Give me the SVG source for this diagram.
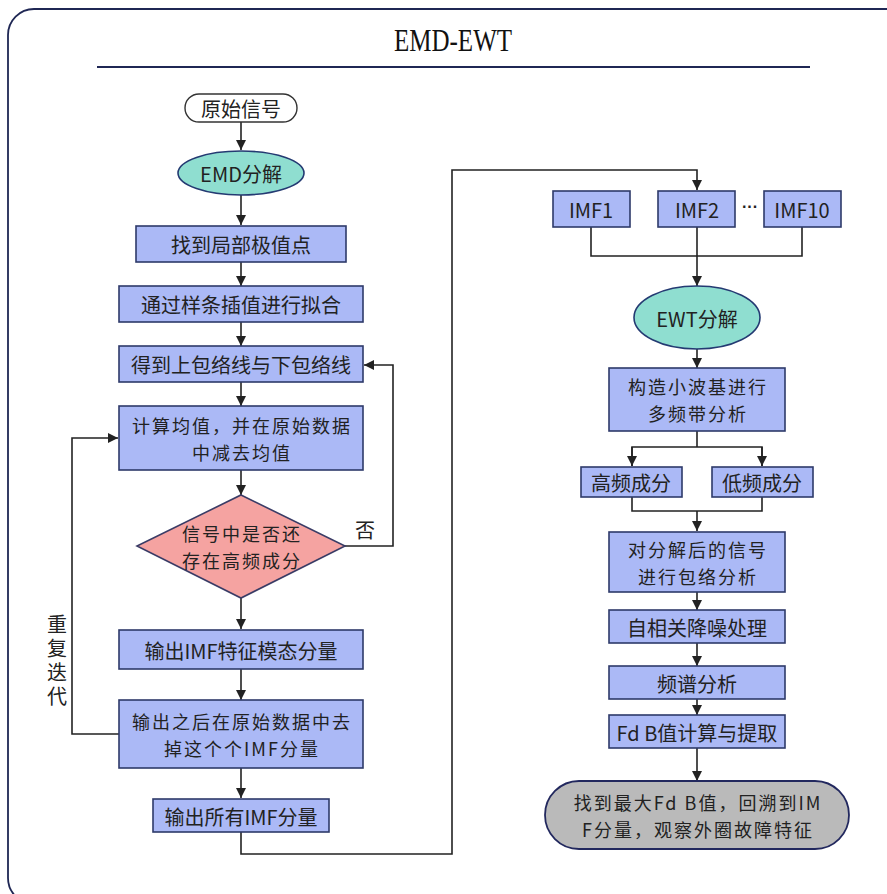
<svg xmlns="http://www.w3.org/2000/svg" width="887" height="894" viewBox="0 0 887 894">
<style>
.t{font-family:"Noto Sans CJK SC","Microsoft YaHei",sans-serif;font-size:20px;fill:#222;text-anchor:middle;dominant-baseline:central}
.t2{font-family:"Noto Sans CJK SC","Microsoft YaHei",sans-serif;font-size:18px;letter-spacing:2px;fill:#222;text-anchor:middle;dominant-baseline:central}
.box{fill:#abb9f6;stroke:#2e3a6a;stroke-width:1.6}
.ell{fill:#8fded0;stroke:#243a72;stroke-width:1.6}
.dia{fill:#f5a3a1;stroke:#3a3c66;stroke-width:1.6}
.pill{fill:#fff;stroke:#333;stroke-width:1.4}
.end{fill:#bababa;stroke:#22285e;stroke-width:1.8}
.ln{fill:none;stroke:#222;stroke-width:1.6}
</style>
<defs>
<marker id="ah" viewBox="0 0 10 10" refX="10" refY="5" markerWidth="10" markerHeight="10" markerUnits="userSpaceOnUse" orient="auto">
<path d="M0,0 L10,5 L0,10 Z" fill="#222"/>
</marker>
</defs>
<rect x="8" y="9" width="910" height="895" rx="26" fill="#fff" stroke="#1f2754" stroke-width="1.8"/>
<text x="453" y="40" font-family="Liberation Serif, serif" font-size="31" fill="#111" text-anchor="middle" dominant-baseline="central" textLength="118" lengthAdjust="spacingAndGlyphs">EMD-EWT</text>
<line x1="97" y1="67" x2="810" y2="67" stroke="#1f2754" stroke-width="1.8"/>

<g id="connectors">
<path class="ln" d="M241,122 V150" marker-end="url(#ah)"/>
<path class="ln" d="M241,195 V225" marker-end="url(#ah)"/>
<path class="ln" d="M241,262 V286" marker-end="url(#ah)"/>
<path class="ln" d="M241,322 V346" marker-end="url(#ah)"/>
<path class="ln" d="M241,382 V406" marker-end="url(#ah)"/>
<path class="ln" d="M241,470 V495" marker-end="url(#ah)"/>
<path class="ln" d="M241,598 V629" marker-end="url(#ah)"/>
<path class="ln" d="M241,669 V700" marker-end="url(#ah)"/>
<path class="ln" d="M241,768 V798" marker-end="url(#ah)"/>
<path class="ln" d="M345,546 H393 V365 H364" marker-end="url(#ah)"/>
<path class="ln" d="M119,734 H72 V438 H118" marker-end="url(#ah)"/>
<path class="ln" d="M241,832 V854 H452 V170 H697 V190" marker-end="url(#ah)"/>
<path class="ln" d="M591,227 V256 H802 V227"/>
<path class="ln" d="M697,227 V286" marker-end="url(#ah)"/>
<path class="ln" d="M697,349 V368" marker-end="url(#ah)"/>
<path class="ln" d="M697,431 V447"/>
<path class="ln" d="M632,466 V447 H762 V466"/>
<path class="ln" d="M632,447 V466" marker-end="url(#ah)"/>
<path class="ln" d="M762,447 V466" marker-end="url(#ah)"/>
<path class="ln" d="M632,497 V511 H762 V497"/>
<path class="ln" d="M697,511 V531" marker-end="url(#ah)"/>
<path class="ln" d="M697,592 V610" marker-end="url(#ah)"/>
<path class="ln" d="M697,643 V666" marker-end="url(#ah)"/>
<path class="ln" d="M697,699 V715" marker-end="url(#ah)"/>
<path class="ln" d="M697,748 V781" marker-end="url(#ah)"/>
<text class="t" x="365" y="529">否</text>
<text x="57" y="614" font-family="Noto Sans CJK SC, sans-serif" font-size="20" fill="#222" style="writing-mode:vertical-rl;letter-spacing:4px">重复迭代</text>
</g>

<g id="n_start"><rect class="pill" x="185" y="94" width="112" height="28" rx="14"/><text class="t" x="241" y="108">原始信号</text></g>
<g id="n_emd"><ellipse class="ell" cx="241" cy="173" rx="63" ry="22"/><text class="t" x="241" y="173">EMD分解</text></g>
<g id="n_extrema"><rect class="box" x="136" y="226" width="210" height="36"/><text class="t" x="241" y="244">找到局部极值点</text></g>
<g id="n_spline"><rect class="box" x="119" y="286" width="244" height="36"/><text class="t" x="241" y="304">通过样条插值进行拟合</text></g>
<g id="n_envelope"><rect class="box" x="119" y="346" width="244" height="36"/><text class="t" x="241" y="364">得到上包络线与下包络线</text></g>
<g id="n_mean"><rect class="box" x="119" y="406" width="244" height="64"/><text class="t2"><tspan x="242" y="425">计算均值，并在原始数据</tspan><tspan x="242" y="452">中减去均值</tspan></text></g>
<g id="n_decision"><polygon class="dia" points="241,495 345,546 241,598 137,546"/><text class="t2"><tspan x="242" y="533">信号中是否还</tspan><tspan x="242" y="560">存在高频成分</tspan></text></g>
<g id="n_imf"><rect class="box" x="119" y="630" width="244" height="39"/><text class="t" x="241" y="650">输出IMF特征模态分量</text></g>
<g id="n_remove"><rect class="box" x="119" y="700" width="244" height="68"/><text class="t2"><tspan x="242" y="721">输出之后在原始数据中去</tspan><tspan x="242" y="748">掉这个个IMF分量</tspan></text></g>
<g id="n_all"><rect class="box" x="153" y="799" width="176" height="33"/><text class="t" x="241" y="816">输出所有IMF分量</text></g>

<g id="n_imf1"><rect class="box" x="553" y="191" width="77" height="36"/><text class="t" x="591" y="209">IMF1</text></g>
<g id="n_imf2"><rect class="box" x="658" y="191" width="77" height="36"/><text class="t" x="697" y="209">IMF2</text></g>
<text x="750" y="212" font-family="Liberation Sans, sans-serif" font-size="16" font-weight="bold" fill="#222" text-anchor="middle">···</text>
<g id="n_imf10"><rect class="box" x="764" y="191" width="77" height="36"/><text class="t" x="802" y="209">IMF10</text></g>
<g id="n_ewt"><ellipse class="ell" cx="697" cy="317.5" rx="63" ry="31.5"/><text class="t" x="697" y="318">EWT分解</text></g>
<g id="n_wavelet"><rect class="box" x="609" y="368" width="176" height="63"/><text class="t2"><tspan x="698" y="386">构造小波基进行</tspan><tspan x="698" y="413">多频带分析</tspan></text></g>
<g id="n_high"><rect class="box" x="581" y="467" width="101" height="30"/><text class="t" x="631" y="482">高频成分</text></g>
<g id="n_low"><rect class="box" x="712" y="467" width="101" height="30"/><text class="t" x="762" y="482">低频成分</text></g>
<g id="n_envana"><rect class="box" x="609" y="532" width="176" height="60"/><text class="t2"><tspan x="698" y="549">对分解后的信号</tspan><tspan x="698" y="576">进行包络分析</tspan></text></g>
<g id="n_denoise"><rect class="box" x="609" y="610" width="176" height="33"/><text class="t" x="697" y="627">自相关降噪处理</text></g>
<g id="n_spectrum"><rect class="box" x="609" y="666" width="176" height="33"/><text class="t" x="697" y="683">频谱分析</text></g>
<g id="n_fdb"><rect class="box" x="609" y="715" width="176" height="33"/><text class="t" x="697" y="732">Fd B值计算与提取</text></g>
<g id="n_end"><rect class="end" x="545" y="781" width="304" height="68" rx="34"/><text class="t2"><tspan x="698" y="802">找到最大Fd B值，回溯到IM</tspan><tspan x="698" y="829">F分量，观察外圈故障特征</tspan></text></g>
</svg>
